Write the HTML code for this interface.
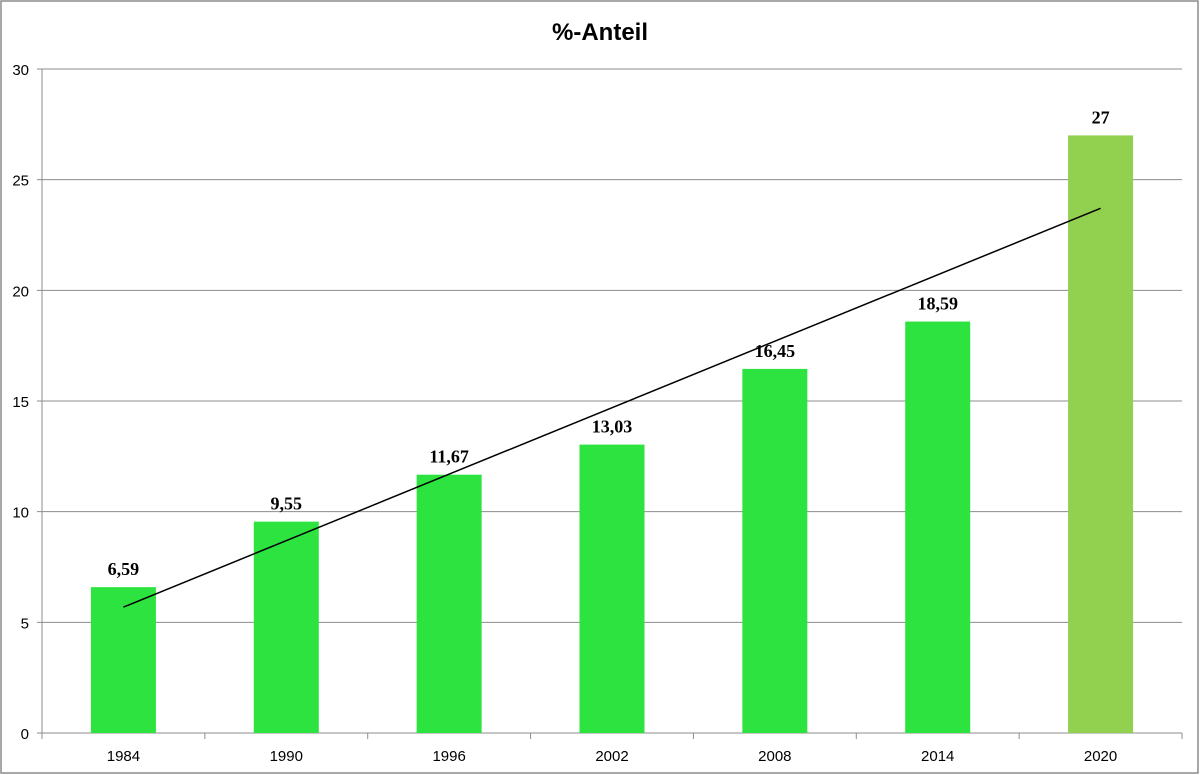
<!DOCTYPE html>
<html><head><meta charset="utf-8"><style>
body{margin:0;background:#fff;}
svg{display:block;}
</style></head><body>
<svg id="chart" width="1200" height="775" xmlns="http://www.w3.org/2000/svg">
<rect x="1" y="1" width="1197" height="772" fill="#fff" stroke="#8c8c8c" stroke-width="1.5"/>
<text x="600" y="40" text-anchor="middle" font-family="'Liberation Sans',sans-serif" font-weight="bold" font-size="24">%-Anteil</text>
<g id="grid"></g><g id="bars"></g><g id="labels"></g><g id="trend"></g><g id="axes"></g>
</svg>
<script>
const categories=["1984","1990","1996","2002","2008","2014","2020"];
const values=[6.59,9.55,11.67,13.03,16.45,18.59,27];
const valueLabels=["6,59","9,55","11,67","13,03","16,45","18,59","27"];
const yTicks=[0,5,10,15,20,25,30];
const NS="http://www.w3.org/2000/svg";
const L=42,R=1182,T=69,B=733,yMax=30;
const band=(R-L)/categories.length;
const x=i=>L+band*(i+0.5);
const y=v=>B-(v/yMax)*(B-T);
function mk(p,tag,a){const e=document.createElementNS(NS,tag);for(const k in a)e.setAttribute(k,a[k]);document.getElementById(p).appendChild(e);return e;}
yTicks.forEach(t=>{
 const g=mk('grid','line',{x1:L-5,x2:R,y1:y(t),y2:y(t),stroke:'#8c8c8c','stroke-width':1});
 
 
 const tx=mk('axes','text',{x:L-13,y:y(t)+6,'text-anchor':'end','font-family':"'Liberation Sans',sans-serif",'font-size':15});
 tx.textContent=t;
 
 
});
const ax=mk('axes','line',{x1:L,x2:L,y1:T,y2:B,stroke:'#8c8c8c','stroke-width':1});


for(let i=0;i<=categories.length;i++){
 const tk=mk('axes','line',{x1:L+band*i,x2:L+band*i,y1:B,y2:B+6,stroke:'#8c8c8c','stroke-width':1});
 
 
}
const bw=65;
categories.forEach((c,i)=>{
 const last=i===categories.length-1;
 const r=mk('bars','rect',{x:x(i)-bw/2,y:y(values[i]),width:bw,height:B-y(values[i]),fill:last?'#92d050':'#2ce33f'});
 
 
 const vl=mk('labels','text',{x:x(i),y:y(values[i])-12,'text-anchor':'middle','font-family':"'Liberation Serif',serif",'font-weight':'bold','font-size':18});
 vl.textContent=valueLabels[i];
 
 
 const xl=mk('labels','text',{x:x(i),y:B+28,'text-anchor':'middle','font-family':"'Liberation Sans',sans-serif",'font-size':15});
 xl.textContent=c;
 
 
});
// linear trendline
const n=values.length,mx=(n-1)/2,my=values.reduce((a,b)=>a+b,0)/n;
let sxy=0,sxx=0;values.forEach((v,i)=>{sxy+=(i-mx)*(v-my);sxx+=(i-mx)*(i-mx);});
const slope=sxy/sxx,icpt=my-slope*mx;
const tl=mk('trend','line',{x1:x(0),y1:y(icpt),x2:x(n-1),y2:y(icpt+slope*(n-1)),stroke:'#000','stroke-width':1.5});


</script>
</body></html>
